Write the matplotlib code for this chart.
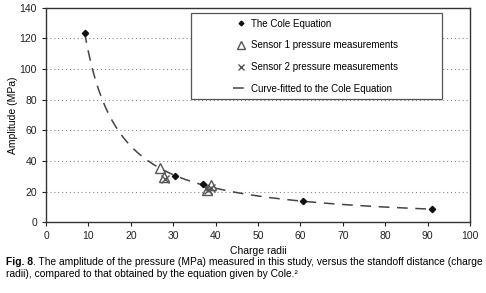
import numpy as np
import matplotlib
matplotlib.use("Agg")
import matplotlib.pyplot as plt
from matplotlib.patches import Rectangle

plt.rcParams['font.family'] = ['Liberation Sans', 'DejaVu Sans']

# Data
cole_x = [9.1, 30.4, 37.0, 60.7, 91.0]
cole_y = [123.5, 30.3, 24.8, 13.7, 8.5]
s1_x = [26.9, 27.9, 38.8, 37.9]
s1_y = [35.6, 29.4, 24.3, 20.8]
s2_x = [28.0, 38.2, 38.8]
s2_y = [28.5, 21.0, 22.3]
x_ticks = [0, 10, 20, 30, 40, 50, 60, 70, 80, 90, 100]
y_ticks = [0, 20, 40, 60, 80, 100, 120, 140]

# Power-law fit to the Cole points
b, loga = np.polyfit(np.log(cole_x), np.log(cole_y), 1)
fx = np.linspace(min(cole_x), max(cole_x), 200)
fy = np.exp(loga) * fx ** b

fig = plt.figure(figsize=(4.86, 2.93), dpi=100)
ax = fig.add_axes([0.0947, 0.2413, 0.8723, 0.7327])

for yv in y_ticks[1:-1]:
    ax.axhline(yv, color='#888888', lw=0.8, ls=(0, (1, 2.5)), zorder=0)

ax.plot(fx, fy, color='#444444', lw=1.1, ls=(0, (7, 5)), zorder=2,
        label='Curve-fitted to the Cole Equation')
ax.plot(cole_x, cole_y, ls='none', marker='D', ms=3.2, color='#111111',
        zorder=4, label='The Cole Equation')
ax.plot(s1_x, s1_y, ls='none', marker='^', ms=7, mfc='none', mec='#555555',
        mew=1.0, zorder=3, label='Sensor 1 pressure measurements')
ax.plot(s2_x, s2_y, ls='none', marker='x', ms=5.5, color='#555555',
        mew=1.0, zorder=3, label='Sensor 2 pressure measurements')

ax.set_xlim(0, 100)
ax.set_ylim(0, 140)
ax.set_xticks(x_ticks)
ax.set_yticks(y_ticks)
ax.tick_params(labelsize=7.5, colors='#222222', length=3, width=0.8)
for s in ax.spines.values():
    s.set_color('#333333')
    s.set_linewidth(1.0)

ax.set_xlabel('Charge radii', fontsize=7.5, labelpad=3.5)
ax.set_ylabel('Amplitude (MPa)', fontsize=7.5, labelpad=1)

# Legend box (drawn as a frame) and legend contents
ax.add_patch(Rectangle((0.342, 0.574), 0.592, 0.399, transform=ax.transAxes,
                       fill=True, facecolor='white', edgecolor='#555555',
                       lw=0.9, zorder=5))
h, l = ax.get_legend_handles_labels()
order = [1, 2, 3, 0]
leg = ax.legend([h[i] for i in order], [l[i] for i in order],
                loc='center', bbox_to_anchor=(0.636, 0.7735),
                fontsize=7, frameon=False,
                borderpad=0.3, labelspacing=1.2, handlelength=1.6,
                handletextpad=0.25, borderaxespad=0, markerscale=0.75)
leg.set_zorder(6)

fs = 7.4
y1 = 1 - 264.6 / 293
y2 = 1 - 277.2 / 293
t1 = fig.text(6 / 486, y1, 'Fig. 8', fontsize=fs, fontweight='bold',
              ha='left', va='baseline')
fig.canvas.draw()
r = fig.canvas.get_renderer()
w = t1.get_window_extent(r).width
fig.text(6 / 486 + w / 486, y1,
         '. The amplitude of the pressure (MPa) measured in this study, versus the standoff distance (charge',
         fontsize=fs, ha='left', va='baseline')
fig.text(6 / 486, y2,
         'radii), compared to that obtained by the equation given by Cole.\u00b2',
         fontsize=fs, ha='left', va='baseline')

fig.savefig('out.png', dpi=100)
